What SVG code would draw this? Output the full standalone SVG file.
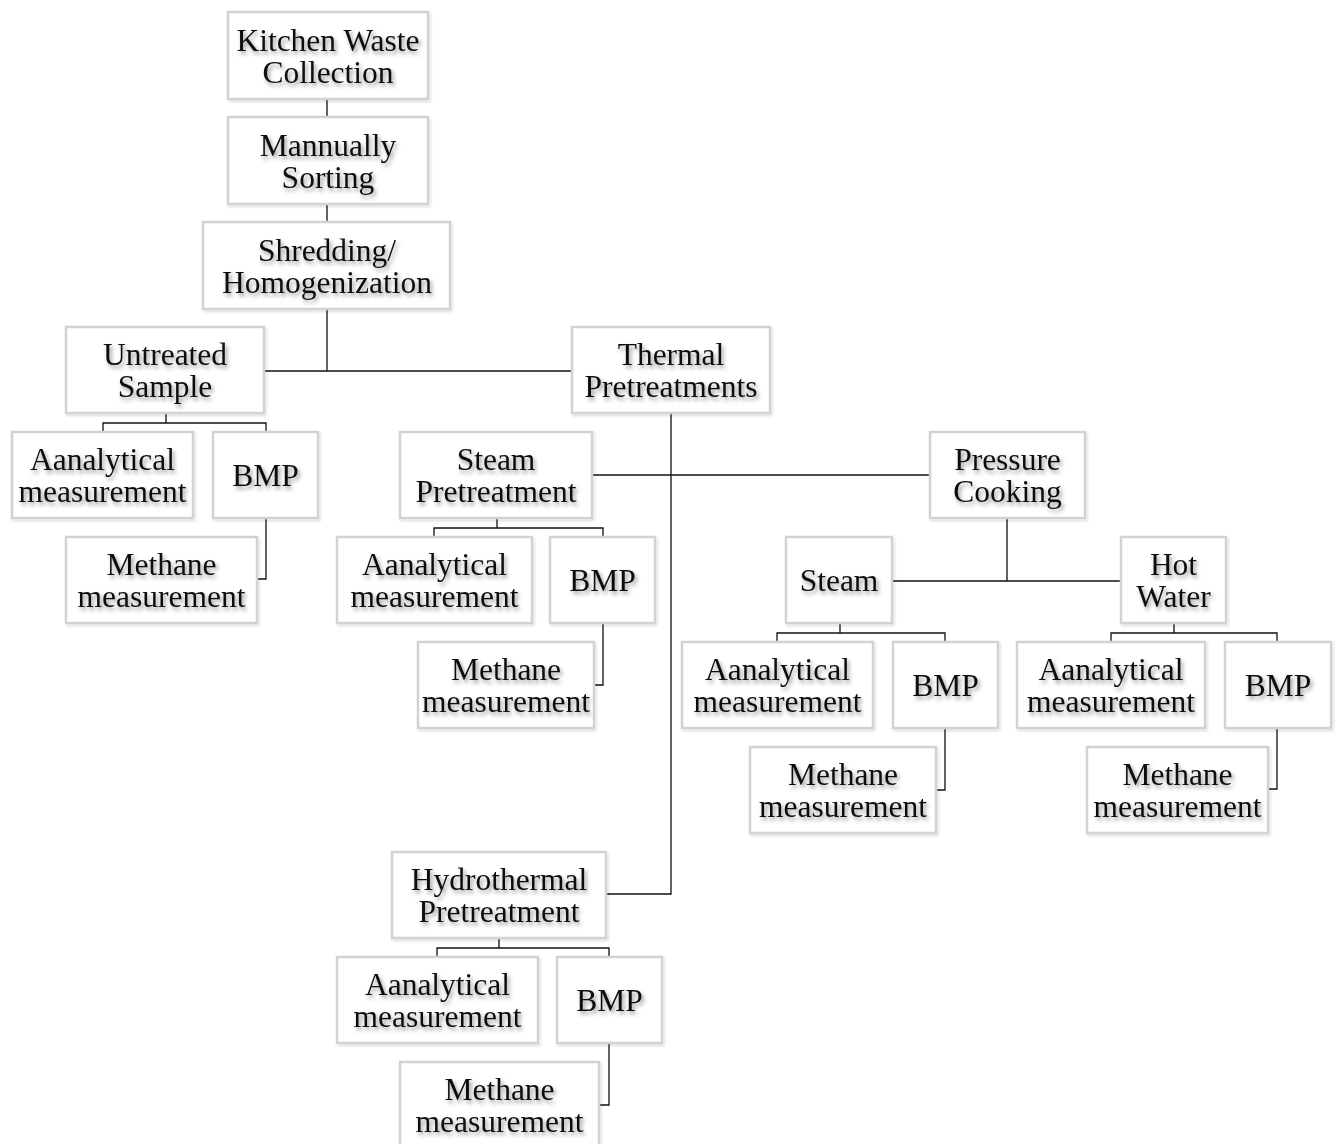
<svg xmlns="http://www.w3.org/2000/svg" width="1336" height="1144" viewBox="0 0 1336 1144">
<defs>
<filter id="ts" x="-10%" y="-30%" width="130%" height="170%">
<feDropShadow dx="2" dy="3" stdDeviation="2" flood-color="#000" flood-opacity="0.42"/>
</filter>
<filter id="bs" x="-5%" y="-5%" width="115%" height="120%">
<feDropShadow dx="1.5" dy="2" stdDeviation="1.2" flood-color="#000" flood-opacity="0.12"/>
</filter>
</defs>
<style>
.box{fill:#fff;stroke:#d2d2d2;stroke-width:2.5;filter:url(#bs)}
.t{font-family:"Liberation Serif","Times New Roman",serif;font-size:31.5px;fill:#111;text-anchor:middle;filter:url(#ts)}
.c{fill:none;stroke:#111;stroke-width:1.3}
</style>
<rect width="1336" height="1144" fill="#fff"/>
<g id="connectors">
<path class="c" d="M327,99V117M327,204V222M327,309V371M264,371H572"/>
<path class="c" d="M166,413V423M103,432V423H266V432M266,518V579H257"/>
<path class="c" d="M671,413V894H606M592,475H930"/>
<path class="c" d="M1007,518V581M892,581H1121"/>
<path class="c" d="M497,518V528M434,537V528H603V537M603,623V685H594"/>
<path class="c" d="M840,623V633M777,642V633H945V642M945,728V790H936"/>
<path class="c" d="M1174,623V633M1111,642V633H1277V642M1277,728V789H1268"/>
<path class="c" d="M499,938V948M437,957V948H609V957M609,1043V1105H599"/>
</g>
<g id="n1"><rect class="box" x="228" y="12" width="200" height="87"/><text class="t" x="328" y="51">Kitchen Waste<tspan x="328" dy="31.5">Collection</tspan></text></g>
<g id="n2"><rect class="box" x="228" y="117" width="200" height="87"/><text class="t" x="328" y="156">Mannually<tspan x="328" dy="31.5">Sorting</tspan></text></g>
<g id="n3"><rect class="box" x="203" y="222" width="247" height="87"/><text class="t" x="327" y="261">Shredding/<tspan x="327" dy="31.5">Homogenization</tspan></text></g>
<g id="n4"><rect class="box" x="66" y="327" width="198" height="86"/><text class="t" x="165" y="365">Untreated<tspan x="165" dy="31.5">Sample</tspan></text></g>
<g id="n5"><rect class="box" x="572" y="327" width="198" height="86"/><text class="t" x="671" y="365">Thermal<tspan x="671" dy="31.5">Pretreatments</tspan></text></g>
<g id="n6"><rect class="box" x="12" y="432" width="181" height="86"/><text class="t" x="102.5" y="470">Aanalytical<tspan x="102.5" dy="31.5">measurement</tspan></text></g>
<g id="n7"><rect class="box" x="213" y="432" width="105" height="86"/><text class="t" x="265.5" y="486">BMP</text></g>
<g id="n8"><rect class="box" x="66" y="537" width="191" height="86"/><text class="t" x="161.5" y="575">Methane<tspan x="161.5" dy="31.5">measurement</tspan></text></g>
<g id="n9"><rect class="box" x="400" y="432" width="192" height="86"/><text class="t" x="496" y="470">Steam<tspan x="496" dy="31.5">Pretreatment</tspan></text></g>
<g id="n10"><rect class="box" x="930" y="432" width="155" height="86"/><text class="t" x="1007.5" y="470">Pressure<tspan x="1007.5" dy="31.5">Cooking</tspan></text></g>
<g id="n11"><rect class="box" x="337" y="537" width="195" height="86"/><text class="t" x="434.5" y="575">Aanalytical<tspan x="434.5" dy="31.5">measurement</tspan></text></g>
<g id="n12"><rect class="box" x="550" y="537" width="105" height="86"/><text class="t" x="602.5" y="591">BMP</text></g>
<g id="n13"><rect class="box" x="418" y="642" width="176" height="86"/><text class="t" x="506" y="680">Methane<tspan x="506" dy="31.5">measurement</tspan></text></g>
<g id="n14"><rect class="box" x="786" y="537" width="106" height="86"/><text class="t" x="839" y="591">Steam</text></g>
<g id="n15"><rect class="box" x="1121" y="537" width="105" height="86"/><text class="t" x="1173.5" y="575">Hot<tspan x="1173.5" dy="31.5">Water</tspan></text></g>
<g id="n16"><rect class="box" x="682" y="642" width="191" height="86"/><text class="t" x="777.5" y="680">Aanalytical<tspan x="777.5" dy="31.5">measurement</tspan></text></g>
<g id="n17"><rect class="box" x="893" y="642" width="105" height="86"/><text class="t" x="945.5" y="696">BMP</text></g>
<g id="n18"><rect class="box" x="750" y="747" width="186" height="86"/><text class="t" x="843" y="785">Methane<tspan x="843" dy="31.5">measurement</tspan></text></g>
<g id="n19"><rect class="box" x="1017" y="642" width="188" height="86"/><text class="t" x="1111" y="680">Aanalytical<tspan x="1111" dy="31.5">measurement</tspan></text></g>
<g id="n20"><rect class="box" x="1225" y="642" width="106" height="86"/><text class="t" x="1278" y="696">BMP</text></g>
<g id="n21"><rect class="box" x="1087" y="747" width="181" height="86"/><text class="t" x="1177.5" y="785">Methane<tspan x="1177.5" dy="31.5">measurement</tspan></text></g>
<g id="n22"><rect class="box" x="392" y="852" width="214" height="86"/><text class="t" x="499" y="890">Hydrothermal<tspan x="499" dy="31.5">Pretreatment</tspan></text></g>
<g id="n23"><rect class="box" x="337" y="957" width="201" height="86"/><text class="t" x="437.5" y="995">Aanalytical<tspan x="437.5" dy="31.5">measurement</tspan></text></g>
<g id="n24"><rect class="box" x="557" y="957" width="105" height="86"/><text class="t" x="609.5" y="1011">BMP</text></g>
<g id="n25"><rect class="box" x="400" y="1062" width="199" height="90"/><text class="t" x="499.5" y="1100">Methane<tspan x="499.5" dy="31.5">measurement</tspan></text></g>
</svg>
